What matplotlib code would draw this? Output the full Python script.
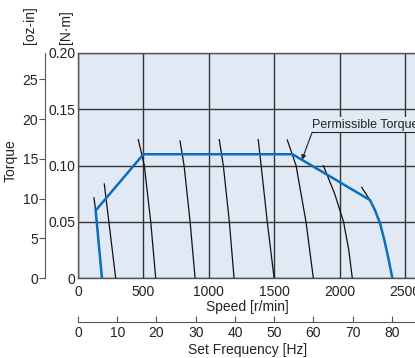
import numpy as np
import matplotlib
matplotlib.use('Agg')
import matplotlib.pyplot as plt

plt.rcParams['font.family'] = ['Liberation Sans', 'DejaVu Sans']

# speed-torque curves per set frequency [r/min], [N*m]
hz6_spd = [122, 135, 183]
hz6_trq = [0.0713, 0.060, 0.0]
hz10_spd = [201, 245, 288]
hz10_trq = [0.0836, 0.0412, 0.0]
hz20_spd = [461, 507, 556, 594]
hz20_trq = [0.123, 0.100, 0.050, 0.0]
hz30_spd = [780, 811, 857, 895]
hz30_trq = [0.1218, 0.100, 0.050, 0.0]
hz40_spd = [1080, 1111, 1157, 1193]
hz40_trq = [0.123, 0.100, 0.050, 0.0]
hz50_spd = [1378, 1400, 1447, 1499]
hz50_trq = [0.123, 0.100, 0.050, 0.0]
hz60_spd = [1600, 1667, 1743, 1799]
hz60_trq = [0.1227, 0.100, 0.050, 0.0]
hz70_spd = [1876, 1962, 2030, 2070, 2097]
hz70_trq = [0.0998, 0.075, 0.050, 0.025, 0.0]
hz80_spd = [2169, 2232]
hz80_trq = [0.0806, 0.0693]
curves = [(hz6_spd, hz6_trq), (hz10_spd, hz10_trq), (hz20_spd, hz20_trq),
          (hz30_spd, hz30_trq), (hz40_spd, hz40_trq), (hz50_spd, hz50_trq),
          (hz60_spd, hz60_trq), (hz70_spd, hz70_trq), (hz80_spd, hz80_trq)]

# permissible torque
perm_spd = [183, 135, 500, 1640, 2232, 2270, 2309, 2342, 2373, 2403]
perm_trq = [0.0, 0.060, 0.110, 0.110, 0.0693, 0.0604, 0.0486, 0.0338, 0.0175, 0.0]

spd_ticks = [0, 500, 1000, 1500, 2000, 2500]
nm_ticks = [0, 0.05, 0.10, 0.15, 0.20]
nm_labels = ['0', '0.05', '0.10', '0.15', '0.20']
ozin_ticks = [0, 5, 10, 15, 20, 25]
hz_ticks = [0, 10, 20, 30, 40, 50, 60, 70, 80, 90]

W, H = 415, 358
fig = plt.figure(figsize=(W / 100, H / 100), dpi=100)

x0, x1 = 78, 78 + 3000 / 2500 * 327
y0, y1 = 278, 53
pos = [x0 / W, (H - y0) / H, (x1 - x0) / W, (y0 - y1) / H]
ax = fig.add_axes(pos)
ax.set_facecolor('#e1e9f5')
ax.set_xlim(0, 3000)
ax.set_ylim(0, 0.20)
ax.set_xticks(spd_ticks)
ax.set_yticks(nm_ticks)
ax.set_yticklabels(nm_labels)
ax.tick_params(length=0, labelsize=10, colors='#222222', pad=2)
ax.tick_params(axis='x', pad=5)
ax.grid(True, color='#333333', lw=1.0)
ax.set_axisbelow(True)
for s in ax.spines.values():
    s.set_color('#555555')
    s.set_linewidth(1.0)

for spd, trq in curves:
    ax.plot(spd, trq, color='#111111', lw=0.9, zorder=3)
ax.plot(perm_spd, perm_trq, color='#0a6fbf', lw=1.8, zorder=4, solid_joinstyle='miter')

ax.text(1790, 0.1305, 'Permissible Torque', fontsize=9, color='#222222',
        ha='left', va='bottom', zorder=5,
        bbox=dict(boxstyle='square,pad=0.15', fc='#e1e9f5', ec='none'))
ax.plot([1787, 3000], [0.1295, 0.1295], color='#222222', lw=0.8, zorder=5)
ax.annotate('', xy=(1712, 0.1050), xytext=(1790, 0.1295),
            arrowprops=dict(arrowstyle='-|>', color='#222222', lw=0.8,
                            mutation_scale=7, shrinkA=0, shrinkB=0), zorder=5)

ax.set_xlabel('Speed [r/min]', fontsize=10, color='#222222')
ax.xaxis.set_label_coords((247 - x0) / (x1 - x0), -(300 - y0) / (y0 - y1))

# oz-in axis
axo = fig.add_axes([45 / W, pos[1], 0.001, pos[3]])
axo.set_ylim(0, 0.20 * 141.6)
axo.set_yticks(ozin_ticks)
axo.set_xticks([])
for k in ['top', 'right', 'bottom']:
    axo.spines[k].set_visible(False)
axo.spines['left'].set_color('#555555')
axo.patch.set_visible(False)
axo.tick_params(axis='y', direction='out', length=4, color='#555555',
                labelsize=10, labelcolor='#222222', pad=1)

# frequency axis
axh = fig.add_axes([pos[0], (H - 322) / H, pos[2], 0.001])
axh.set_xlim(0, 100)
axh.set_xticks(hz_ticks)
axh.set_yticks([])
for k in ['top', 'right', 'left']:
    axh.spines[k].set_visible(False)
axh.spines['bottom'].set_color('#555555')
axh.patch.set_visible(False)
axh.tick_params(axis='x', direction='in', length=4, color='#555555',
                labelsize=10, labelcolor='#222222', pad=3)

fig.text(248 / W, 1 - 350 / H, 'Set Frequency [Hz]', fontsize=10, color='#222222',
         ha='center', va='center')
fig.text(11 / W, 1 - 161 / H, 'Torque', fontsize=10, color='#222222',
         rotation=90, ha='center', va='center')
fig.text(30 / W, 1 - 25 / H, '[oz-in]', fontsize=10, color='#222222',
         rotation=90, ha='center', va='center')
fig.text(66 / W, 1 - 27 / H, '[N·m]', fontsize=10, color='#222222',
         rotation=90, ha='center', va='center')

fig.savefig('out.png', dpi=100)
